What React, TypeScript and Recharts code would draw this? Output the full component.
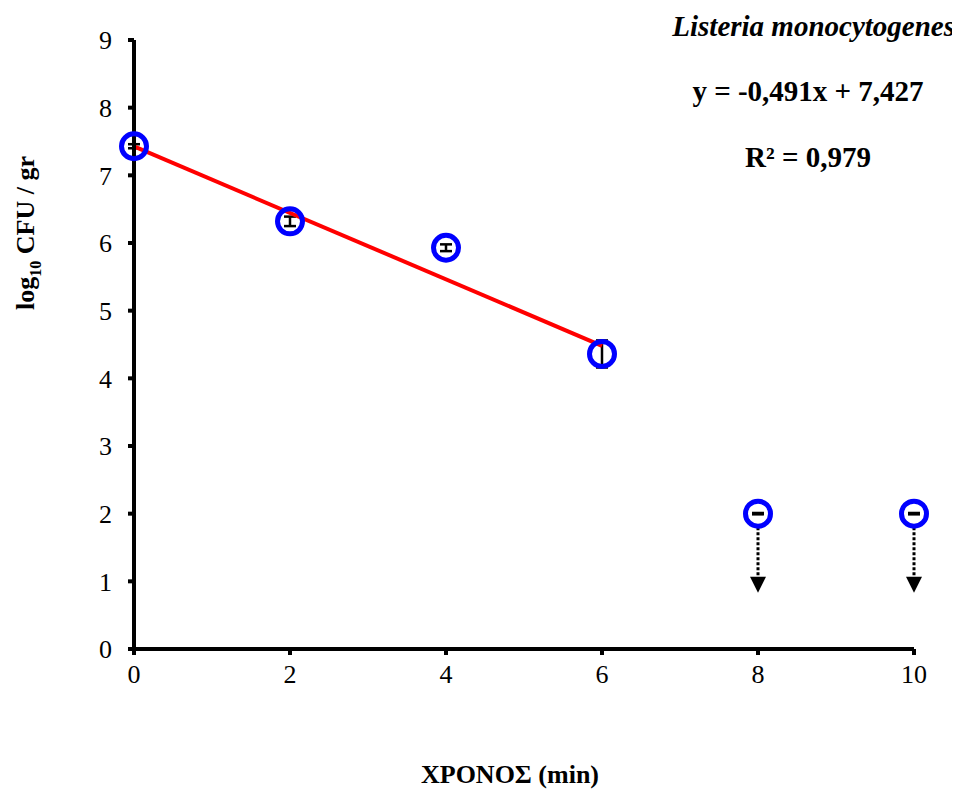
import { ComposedChart, Scatter, ErrorBar, XAxis, YAxis, ReferenceLine } from "recharts"

const times = [0, 2, 4, 6, 8, 10]
const logCounts = [7.43, 6.32, 5.93, 4.36, 2.0, 2.0]
const errors = [0.03, 0.07, 0.05, 0.2, 0.01, 0.01]
const xTicks = [0, 2, 4, 6, 8, 10]
const yTicks = [0, 1, 2, 3, 4, 5, 6, 7, 8, 9]

// fitted line y = slope * x + intercept, drawn over 0..6 min
const slope = -0.491
const intercept = 7.427
const fitRange = [0, 6]

// below detection limit: dotted arrows
const limitTimes = [8, 10]
const arrowFrom = 1.8
const arrowTo = 1.02
const arrowTip = 0.92

const points = times.map((t, i) => ({ x: t, y: logCounts[i], err: errors[i] }))
const arrowHeads = limitTimes.map((t) => ({ x: t, y: arrowTip }))

const font = "'Liberation Serif', 'Times New Roman', serif"

const Ring = (props: any) => {
  const { cx, cy } = props
  return <circle cx={cx} cy={cy} r={12.5} fill="none" stroke="#0000FF" strokeWidth={5} />
}

const Triangle = (props: any) => {
  const { cx, cy } = props
  return <path d={`M${cx - 8},${cy - 10} L${cx + 8},${cy - 10} L${cx},${cy + 6} Z`} fill="#000" />
}

const App = () => {
  return (
    <div style={{ position: "relative", width: 952, height: 782, fontFamily: font }}>
      <ComposedChart width={952} height={782} margin={{ top: 32, right: 46, bottom: 101, left: 56 }}>
        <XAxis
          type="number"
          dataKey="x"
          domain={[0, 10]}
          ticks={xTicks}
          height={40}
          stroke="#000"
          axisLine={{ stroke: "#000", strokeWidth: 4 }}
          tickLine={{ stroke: "#000", strokeWidth: 4 }}
          tickSize={6}
          tickMargin={10}
          tick={{ fill: "#000", fontSize: 26, fontFamily: font }}
        />
        <YAxis
          type="number"
          dataKey="y"
          domain={[0, 9]}
          ticks={yTicks}
          width={70}
          stroke="#000"
          axisLine={{ stroke: "#000", strokeWidth: 4 }}
          tickLine={{ stroke: "#000", strokeWidth: 4 }}
          tickSize={6}
          tickMargin={16}
          tick={{ fill: "#000", fontSize: 26, fontFamily: font }}
        />
        {limitTimes.map((t) => (
          <ReferenceLine
            key={t}
            segment={[{ x: t, y: arrowFrom }, { x: t, y: arrowTo }]}
            stroke="#000"
            strokeWidth={3}
            strokeDasharray="3 2"
          />
        ))}
        <Scatter data={arrowHeads} shape={<Triangle />} isAnimationActive={false} />
        <Scatter data={points} shape={<Ring />} isAnimationActive={false}>
          <ErrorBar dataKey="err" direction="y" width={6} stroke="#000" strokeWidth={2.5} />
        </Scatter>
        <ReferenceLine
          segment={[
            { x: fitRange[0], y: intercept + slope * fitRange[0] },
            { x: fitRange[1], y: intercept + slope * fitRange[1] },
          ]}
          stroke="#FF0000"
          strokeWidth={4}
        />
      </ComposedChart>
      <div style={{ position: "absolute", right: 5, top: 2, fontSize: 29, fontWeight: "bold", fontStyle: "italic", whiteSpace: "nowrap" }}>
        Listeria monocytogenes
      </div>
      <div style={{ position: "absolute", left: 650, width: 300, textAlign: "center", top: 67, fontSize: 29, fontWeight: "bold" }}>
        y = -0,491x + 7,427
      </div>
      <div style={{ position: "absolute", left: 650, width: 300, textAlign: "center", top: 133, fontSize: 29, fontWeight: "bold" }}>
        R² = 0,979
      </div>
      <div
        style={{
          position: "absolute",
          left: 20,
          top: 225,
          width: 0,
          height: 0,
          overflow: "visible",
        }}
      >
        <div
          style={{
            position: "absolute",
            transform: "translate(-50%, -50%) rotate(-90deg)",
            whiteSpace: "nowrap",
            fontSize: 26,
            fontWeight: "bold",
          }}
        >
          log<sub style={{ fontSize: 16 }}>10</sub> CFU / gr
        </div>
      </div>
      <div style={{ position: "absolute", left: 352, width: 300, textAlign: "center", top: 752, fontSize: 26, fontWeight: "bold" }}>
        ΧΡΟΝΟΣ (min)
      </div>
    </div>
  )
}

export default App
